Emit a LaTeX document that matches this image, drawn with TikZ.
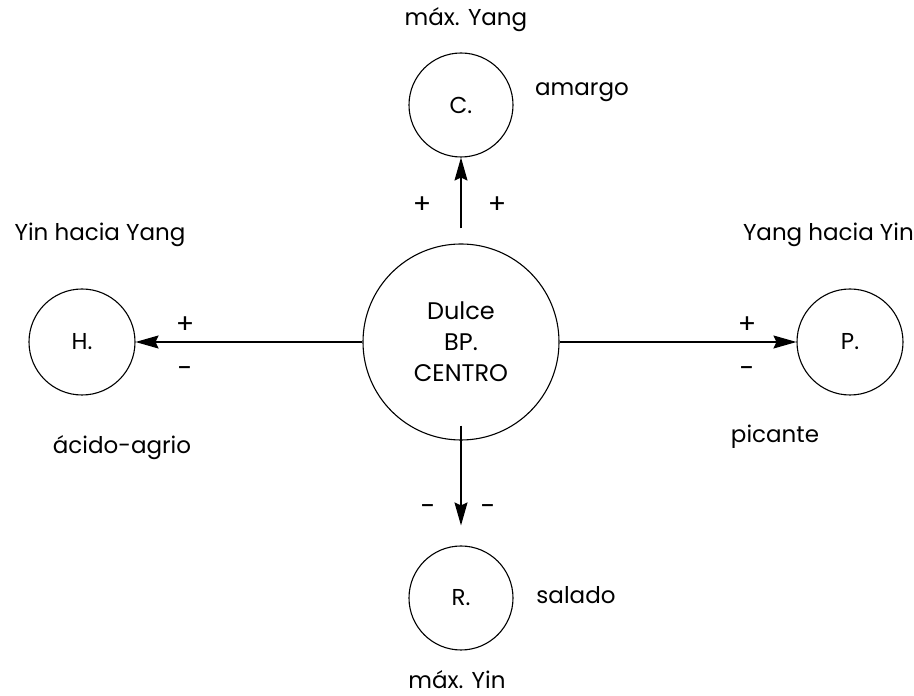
\documentclass[tikz,border=0pt]{standalone}
\usepackage{fontspec}
\setmainfont{Poppins}
\usetikzlibrary{arrows.meta}
\begin{document}
\begin{tikzpicture}[x=1pt,y=1pt,
  circ/.style={circle,draw,line width=1.1pt,inner sep=0pt,font=\fontsize{23}{26}\selectfont},
  lbl/.style={font=\fontsize{23}{26}\selectfont,inner sep=0pt},
  sgn/.style={font=\fontsize{27}{29}\selectfont,inner sep=0pt},
  conn/.style={line width=1.2pt,-{Stealth[length=23pt,width=13pt,inset=3pt]}}]
\useasboundingbox (0,0) rectangle (914,696);
% nodes (y = 696 - pixel y)
\node[circ,minimum size=196pt,align=center,font=\fontsize{24}{31}\selectfont] (ctr) at (461,354) {Dulce\\BP.\\CENTRO};
\node[circ,minimum size=104pt] (C) at (461,591) {C.};
\node[circ,minimum size=106pt] (H) at (82,354) {H.};
\node[circ,minimum size=106pt] (P) at (850,354) {P.};
\node[circ,minimum size=104pt] (R) at (461,98) {R.};
% labels
\node[lbl] (mya) at (466,676) {máx. Yang};
\node[lbl] (ama) at (582,604) {amargo};
\node[lbl] (yhy) at (100,461) {Yin hacia Yang};
\node[lbl,anchor=east] (yhyi) at (914,461) {Yang hacia Yin};
\node[lbl] (aci) at (122,248) {ácido-agrio};
\node[lbl] (pic) at (775,259) {picante};
\node[lbl] (sal) at (576,101) {salado};
\node[lbl] (myi) at (457,16) {máx. Yin};
% signs
\node[sgn] (s1) at (422,491) {+};
\node[sgn] (s2) at (497,491) {+};
\node[sgn] (s3) at (185,371) {+};
\node[sgn] (s4) at (185,324) {-};
\node[sgn] (s5) at (747,371) {+};
\node[sgn] (s6) at (747,324) {-};
\node[sgn] (s7) at (428,186) {-};
\node[sgn] (s8) at (488,186) {-};
% connectors
\draw[conn] ([yshift=15pt]ctr.north) -- (C.south);
\draw[conn] (ctr.west) -- (H.east);
\draw[conn] (ctr.east) -- (P.west);
\draw[conn] ([yshift=15pt]ctr.south) -- ([yshift=20pt]R.north);
\end{tikzpicture}
\end{document}
